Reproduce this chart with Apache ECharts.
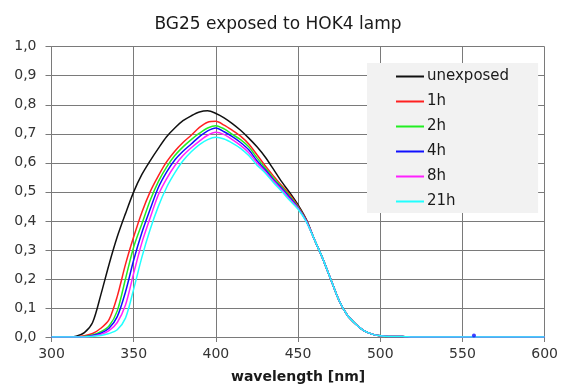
<!DOCTYPE html>
<html>
<head>
<meta charset="utf-8">
<script src="https://cdn.jsdelivr.net/npm/echarts@6/dist/echarts.min.js"></script>
<style>html,body{margin:0;padding:0;background:#fff}#c{width:561px;height:389px}</style>
</head>
<body>
<div id="c"></div>
<script>
var wavelengths = [300,305,310,315,320,325,330,335,340,345,350,355,360,365,370,375,380,385,390,395,400,405,410,415,420,425,430,435,440,445,450,455,460,465,470,475,480,485,490,495,500,505,510,515,520,525,530,535,540,545,550,555,560,565,570,575,580,585,590,595,600];
var unexposed = [0,0,0,0.003,0.015,0.05,0.145,0.25,0.345,0.425,0.5,0.56,0.607,0.65,0.69,0.72,0.745,0.762,0.775,0.779,0.77,0.755,0.735,0.712,0.685,0.655,0.62,0.578,0.535,0.497,0.455,0.405,0.335,0.27,0.197,0.125,0.075,0.045,0.022,0.01,0.004,0.002,0.002,0.001,0,0,0,0,0,0,0,0,0,0,0,0,0,0,0,0,0];
var h1 = [0,0,0,0,0.004,0.012,0.03,0.06,0.14,0.25,0.345,0.43,0.5,0.555,0.603,0.64,0.67,0.695,0.722,0.74,0.743,0.73,0.712,0.692,0.665,0.628,0.59,0.555,0.522,0.49,0.45,0.403,0.335,0.27,0.197,0.125,0.075,0.045,0.022,0.01,0.004,0.002,0.002,0.001,0,0,0,0,0,0,0,0,0,0,0,0,0,0,0,0,0];
var h2 = [0,0,0,0,0.002,0.007,0.018,0.038,0.09,0.2,0.31,0.39,0.47,0.535,0.585,0.625,0.655,0.68,0.702,0.72,0.728,0.717,0.698,0.68,0.655,0.617,0.582,0.548,0.517,0.485,0.447,0.4,0.335,0.27,0.197,0.125,0.075,0.045,0.022,0.01,0.004,0.002,0.002,0.001,0,0,0,0,0,0,0,0,0,0,0,0,0,0,0,0,0];
var h4 = [0,0,0,0,0.001,0.005,0.013,0.03,0.07,0.155,0.265,0.36,0.44,0.515,0.568,0.61,0.64,0.665,0.69,0.71,0.72,0.707,0.69,0.67,0.645,0.607,0.576,0.542,0.512,0.48,0.445,0.4,0.335,0.27,0.197,0.125,0.075,0.045,0.022,0.01,0.004,0.002,0.002,0.001,0,0,0,0,0,0,0,0,0,0,0,0,0,0,0,0,0];
var h8 = [0,0,0,0,0,0.003,0.009,0.022,0.05,0.11,0.22,0.325,0.41,0.49,0.545,0.59,0.625,0.652,0.675,0.695,0.705,0.697,0.68,0.66,0.635,0.6,0.57,0.537,0.507,0.475,0.443,0.398,0.335,0.27,0.197,0.125,0.075,0.045,0.022,0.01,0.004,0.002,0.002,0.001,0,0,0,0,0,0,0,0,0,0,0,0,0,0,0,0,0];
var h21 = [0,0,0,0,0,0.002,0.005,0.012,0.025,0.065,0.165,0.275,0.37,0.45,0.515,0.565,0.607,0.638,0.663,0.68,0.688,0.682,0.668,0.65,0.625,0.592,0.565,0.532,0.502,0.47,0.44,0.397,0.335,0.27,0.197,0.125,0.075,0.045,0.022,0.01,0.004,0.002,0.002,0.001,0,0,0,0,0,0,0,0,0,0,0,0,0,0,0,0,0];
var dotWavelengths = [557];
var dotValues = [0.005];
var seriesNames = ['unexposed','1h','2h','4h','8h','21h'];
var seriesColors = ['#111111','#ff2020','#22ee22','#1010ff','#ff20ff','#20ffff'];
var xTicks = [300,350,400,450,500,550,600];
var yTicks = [0,0.1,0.2,0.3,0.4,0.5,0.6,0.7,0.8,0.9,1.0];

var allValues = [unexposed,h1,h2,h4,h8,h21];
function pairs(xs, ys){ return xs.map(function(x,i){ return [x, ys[i]]; }); }
var FONT = 'DejaVu Sans';
var series = seriesNames.map(function(n,i){
  return {
    name: n, type: 'line', data: pairs(wavelengths, allValues[i]),
    symbol: 'none', smooth: 0.3,
    lineStyle: { color: seriesColors[i], width: 1.5 },
    itemStyle: { color: seriesColors[i] },
    z: 2 + i, animation: false
  };
});
series.push({
  name: 'dot', type: 'scatter', data: pairs(dotWavelengths, dotValues),
  symbolSize: 4, itemStyle: { color: '#1010ff' }, z: 10, animation: false
});

var chart = echarts.init(document.getElementById('c'), null, { renderer: 'canvas' });
chart.setOption({
  backgroundColor: '#ffffff',
  animation: false,
  title: {
    text: 'BG25 exposed to HOK4 lamp', left: 273, top: 11, textAlign: 'center',
    textStyle: { fontFamily: FONT, fontSize: 17, fontWeight: 'normal', color: '#1a1a1a' }
  },
  grid: { left: 51.5, right: 14.5, top: 46.7, bottom: 47.5 },
  legend: {
    data: seriesNames, orient: 'vertical', left: 367, top: 63,
    backgroundColor: '#f2f2f2', padding: [6, 29, 4, 28],
    itemWidth: 28, itemHeight: 14, itemGap: 10,
    itemStyle: { opacity: 0 },
    textStyle: { fontFamily: FONT, fontSize: 15, color: '#1a1a1a', padding: [0,0,0,-2] }
  },
  xAxis: {
    type: 'value', min: xTicks[0], max: xTicks[xTicks.length-1], interval: 50,
    name: 'wavelength [nm]', nameLocation: 'middle', nameGap: 33,
    nameTextStyle: { fontFamily: FONT, fontSize: 14, fontWeight: 'bold', color: '#1a1a1a' },
    axisLine: { lineStyle: { color: '#7a7a7a', width: 1 } },
    axisTick: { show: true, length: 5, lineStyle: { color: '#7a7a7a' } },
    axisLabel: { fontFamily: FONT, fontSize: 14, color: '#333333', margin: 10 },
    splitLine: { show: true, lineStyle: { color: '#7a7a7a', width: 1 } }
  },
  yAxis: {
    type: 'value', min: yTicks[0], max: yTicks[yTicks.length-1], interval: 0.1,
    axisLine: { show: true, lineStyle: { color: '#7a7a7a', width: 1 } },
    axisTick: { show: true, length: 6, lineStyle: { color: '#7a7a7a' } },
    axisLabel: { fontFamily: FONT, fontSize: 14, color: '#333333', margin: 15,
      formatter: function(v){ return v.toFixed(1).replace('.', ','); } },
    splitLine: { show: true, lineStyle: { color: '#7a7a7a', width: 1 } }
  },
  series: series
});
</script>
</body>
</html>
